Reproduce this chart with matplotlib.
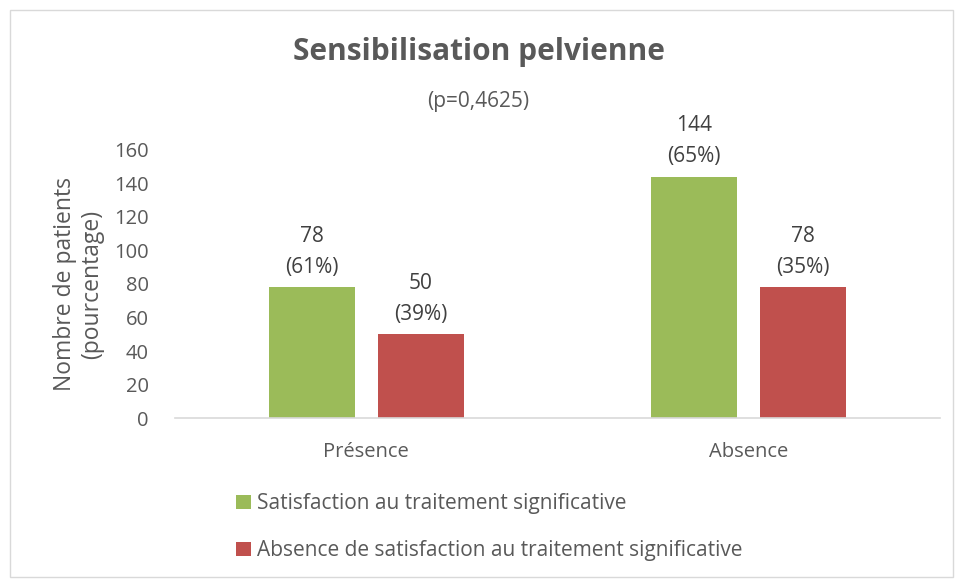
import matplotlib.pyplot as plt
from matplotlib.patches import Rectangle
import numpy as np

plt.rcParams['font.family'] = ['Open Sans', 'DejaVu Sans']

categories = ['Présence', 'Absence']
satisfaction = [78, 144]
satisfaction_pct = ['61%', '65%']
absence_satisfaction = [50, 78]
absence_pct = ['39%', '35%']
series_names = ['Satisfaction au traitement significative',
                'Absence de satisfaction au traitement significative']
yticks = [0, 20, 40, 60, 80, 100, 120, 140, 160]

vert = '#9BBB59'
rouge = '#C0504D'
gris = '#595959'

fig = plt.figure(figsize=(9.57, 5.79), dpi=100)
ax = fig.add_axes([0.183, 0.278, 0.799, 0.463])

x = np.arange(len(categories))
larg = 0.225
ecart = 0.06
b1 = ax.bar(x - (larg + ecart) / 2, satisfaction, larg, color=vert, label=series_names[0])
b2 = ax.bar(x + (larg + ecart) / 2, absence_satisfaction, larg, color=rouge, label=series_names[1])

for barres, vals, pcts in [(b1, satisfaction, satisfaction_pct), (b2, absence_satisfaction, absence_pct)]:
    for b, v, p in zip(barres, vals, pcts):
        ax.annotate(f'{v}\n({p})', (b.get_x() + b.get_width() / 2, v),
                    xytext=(0, 7), textcoords='offset points', ha='center', va='bottom',
                    fontsize=15, color='#404040', linespacing=1.6)

ax.set_xlim(-0.5, 1.5)
ax.set_ylim(0, 160)
ax.set_yticks(yticks)
ax.set_xticks(x)
ax.set_xticklabels(categories)
ax.tick_params(axis='both', length=0, labelsize=14.5, colors=gris)
ax.tick_params(axis='x', pad=17)
ax.tick_params(axis='y', pad=19)
for s in ['top', 'right', 'left']:
    ax.spines[s].set_visible(False)
ax.spines['bottom'].set_color('#D9D9D9')
ax.spines['bottom'].set_linewidth(1.2)

ax.set_ylabel('Nombre de patients\n(pourcentage)', fontsize=16.5, color=gris, linespacing=1.15)
ax.yaxis.set_label_coords(-0.093, 0.5)

fig.text(0.5, 0.91, 'Sensibilisation pelvienne', ha='center', va='center',
         fontsize=21.5, fontweight='bold', color=gris)
fig.text(0.5, 0.825, '(p=0,4625)', ha='center', va='center', fontsize=15, color=gris)

leg = fig.legend(handles=[b1, b2], labels=series_names, loc='upper left',
                 frameon=False, fontsize=15,
                 handlelength=0.7, handleheight=0.7, handletextpad=0.3,
                 labelspacing=1.25, borderpad=0, borderaxespad=0)
for t in leg.get_texts():
    t.set_color(gris)
leg.set_bbox_to_anchor((0.247, 0.148), transform=fig.transFigure)

fig.patches.append(Rectangle((10 / 957, 2 / 579), 943 / 957, 567 / 579, transform=fig.transFigure,
                             fill=False, edgecolor='#D9D9D9', linewidth=1))

fig.savefig('out.png', dpi=100)
